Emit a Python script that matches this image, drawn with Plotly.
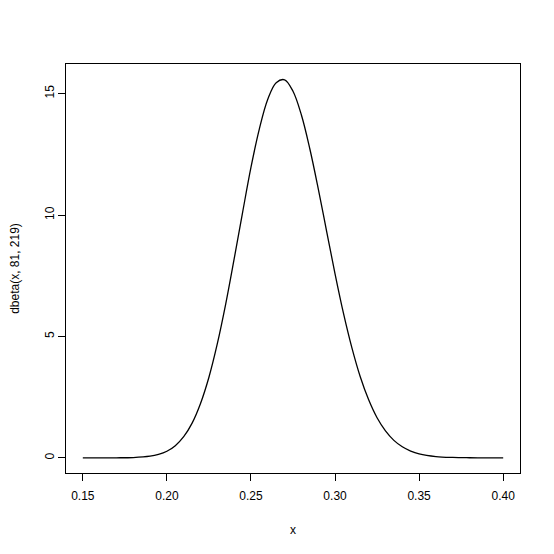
import plotly.graph_objects as go

# density values
x_vals = [0.15, 0.16, 0.17, 0.18, 0.19, 0.195, 0.20, 0.205, 0.21, 0.215, 0.22,
          0.225, 0.23, 0.235, 0.24, 0.245, 0.25, 0.255, 0.26, 0.265, 0.27,
          0.275, 0.28, 0.285, 0.29, 0.295, 0.30, 0.305, 0.31, 0.315, 0.32,
          0.325, 0.33, 0.335, 0.34, 0.345, 0.35, 0.36, 0.37, 0.38, 0.39, 0.40]
density = [0.0, 0.0002, 0.002, 0.013, 0.067, 0.14, 0.27, 0.50, 0.87, 1.43, 2.24,
           3.32, 4.70, 6.34, 8.19, 10.10, 11.96, 13.55, 14.77, 15.45, 15.57,
           15.10, 14.12, 12.73, 11.09, 9.33, 7.58, 5.96, 4.54, 3.34, 2.39,
           1.65, 1.11, 0.72, 0.455, 0.28, 0.166, 0.054, 0.0155, 0.004, 0.001, 0.0002]

x_ticks = [0.15, 0.20, 0.25, 0.30, 0.35, 0.40]
x_tick_text = ["0.15", "0.20", "0.25", "0.30", "0.35", "0.40"]
y_ticks = [0, 5, 10, 15]

fig = go.Figure(
    go.Scatter(
        x=x_vals,
        y=density,
        mode="lines",
        line=dict(color="black", width=1.3, shape="spline", smoothing=1),
        hoverinfo="skip",
    )
)

axis_common = dict(
    showgrid=False,
    zeroline=False,
    showline=True,
    linecolor="black",
    linewidth=1,
    mirror=True,
    ticks="outside",
    ticklen=7,
    tickcolor="black",
    tickfont=dict(size=12, color="black"),
    automargin=False,
)

# page body adds an 8px offset, so the figure is 8px smaller than the window
fig.update_layout(
    width=546,
    height=546,
    margin=dict(l=58, r=34, t=56, b=81),
    paper_bgcolor="white",
    plot_bgcolor="white",
    showlegend=False,
    font=dict(family="Liberation Sans, Arial, sans-serif", color="black", size=12),
    xaxis=dict(
        axis_common,
        range=[0.14, 0.41],
        tickvals=x_ticks,
        ticktext=x_tick_text,
        ticklabelstandoff=5,
        title=dict(text="x", font=dict(size=12), standoff=23),
    ),
    yaxis=dict(
        axis_common,
        range=[-0.624, 16.22],
        tickvals=y_ticks,
        tickangle=-90,
        ticklabelstandoff=-1,
        title=dict(text="dbeta(x, 81, 219)", font=dict(size=12), standoff=25),
    ),
)

fig.write_html("out.html")
